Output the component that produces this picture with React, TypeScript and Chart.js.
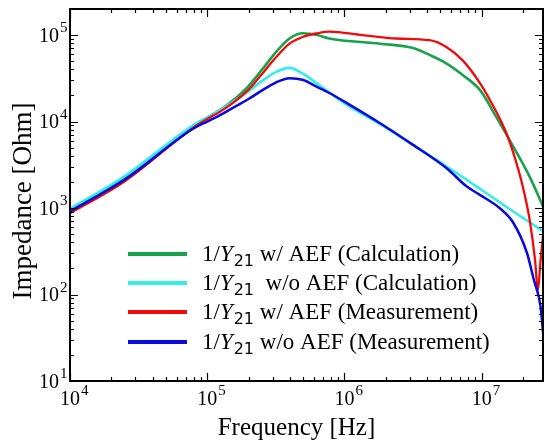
import React, { useEffect, useRef } from "react";
import { Chart, registerables } from "chart.js";

Chart.register(...registerables);

const W = 545;
const H = 445;

// Frequency [Hz] / Impedance [Ohm]
const greenFreq = [1e4, 2.51e4, 7.94e4, 1e5, 1.26e5, 1.585e5, 2.0e5, 2.51e5, 3.16e5, 3.98e5, 5.01e5, 6.31e5, 7.76e5, 1.82e6, 3.16e6, 4.17e6, 5.56e6, 7.24e6, 9.77e6, 1.29e7, 1.7e7, 2.24e7, 2.82e7];
const greenZ = [933, 2239, 8900, 10960, 13800, 18200, 25700, 39800, 63100, 91200, 104700, 100000, 91200, 79400, 70800, 58900, 46800, 34700, 22900, 11000, 5130, 2290, 1020];

const cyanFreq = [1e4, 2.51e4, 7.94e4, 1e5, 1.26e5, 1.585e5, 2.0e5, 2.51e5, 3.16e5, 3.98e5, 5.01e5, 6.31e5, 1.05e6, 1.82e6, 3.16e6, 5.56e6, 9.77e6, 1.7e7, 2.82e7];
const cyanZ = [977, 2344, 9120, 11200, 13800, 17400, 22400, 29500, 37200, 41700, 35500, 27500, 15500, 9330, 5370, 3020, 1660, 912, 537];

const redFreq = [1e4, 2.51e4, 7.94e4, 1e5, 1.26e5, 1.585e5, 2.0e5, 2.51e5, 3.16e5, 3.98e5, 5.01e5, 6.31e5, 7.76e5, 1.35e6, 2.4e6, 4.17e6, 5.56e6, 7.24e6, 9.77e6, 1.29e7, 1.51e7, 1.7e7, 2.0e7, 2.24e7, 2.45e7, 2.57e7, 2.69e7, 2.82e7];
const redZ = [871, 2042, 8510, 10700, 13200, 17000, 23400, 35500, 55000, 79430, 95500, 104700, 109600, 100000, 91200, 87100, 72400, 51300, 27500, 12600, 7410, 4365, 1740, 724, 251, 112, 251, 525];

const blueFreq = [1e4, 2.51e4, 7.94e4, 1e5, 1.26e5, 1.585e5, 2.0e5, 2.51e5, 3.16e5, 3.98e5, 5.01e5, 6.31e5, 7.76e5, 1.05e6, 1.82e6, 3.16e6, 5.56e6, 7.76e6, 9.77e6, 1.35e7, 1.7e7, 2.14e7, 2.4e7, 2.69e7, 2.82e7];
const blueZ = [912, 2138, 8320, 10000, 12000, 14800, 18200, 22900, 28200, 31620, 30200, 25120, 21380, 16220, 9550, 5370, 2880, 1780, 1410, 1000, 676, 302, 148, 72, 32];

const xExps = [4, 5, 6, 7];
const yExps = [1, 2, 3, 4, 5];

const legendNames = [" w/ AEF (Calculation)", "  w/o AEF (Calculation)", " w/ AEF (Measurement)", " w/o AEF (Measurement)"];
const legendColors = ["#17a24c", "#33ecec", "#f00a0a", "#0a0ae0"];

const xTitle = "Frequency [Hz]";
const yTitle = "Impedance [Ohm]";

const SERIF = '"Liberation Serif", "Times New Roman", serif';

function pts(f: number[], z: number[]) {
  return f.map((v, i) => ({ x: v, y: z[i] }));
}

export default function App() {
  const ref = useRef<HTMLCanvasElement>(null);

  useEffect(() => {
    const deco = {
      id: "deco",
      afterDraw(chart: any) {
        const ctx = chart.ctx as CanvasRenderingContext2D;
        const { left, right, top, bottom } = chart.chartArea;
        const xs = chart.scales.x;
        const ys = chart.scales.y;
        ctx.save();
        ctx.strokeStyle = "#000";
        ctx.fillStyle = "#000";
        ctx.lineWidth = 1.2;
        ctx.beginPath();
        for (let d = 4; d <= 7; d++) {
          for (let m = 1; m <= 9; m++) {
            const v = m * Math.pow(10, d);
            if (v < xs.min || v > xs.max) continue;
            const px = Math.round(xs.getPixelForValue(v)) + 0.5;
            const len = m === 1 ? 8 : 4;
            ctx.moveTo(px, bottom);
            ctx.lineTo(px, bottom - len);
            ctx.moveTo(px, top);
            ctx.lineTo(px, top + len);
          }
        }
        for (let d = 1; d <= 5; d++) {
          for (let m = 1; m <= 9; m++) {
            const v = m * Math.pow(10, d);
            if (v < ys.min || v > ys.max) continue;
            const py = Math.round(ys.getPixelForValue(v)) + 0.5;
            const len = m === 1 ? 8 : 4;
            ctx.moveTo(left, py);
            ctx.lineTo(left + len, py);
            ctx.moveTo(right, py);
            ctx.lineTo(right - len, py);
          }
        }
        ctx.stroke();
        ctx.lineWidth = 2;
        ctx.strokeRect(left, top, right - left, bottom - top);

        xExps.forEach((e) => {
          const px = xs.getPixelForValue(Math.pow(10, e));
          ctx.font = `20px ${SERIF}`;
          ctx.textAlign = "center";
          ctx.textBaseline = "alphabetic";
          ctx.fillText("10", px, 405);
          const w = ctx.measureText("10").width;
          ctx.font = `15px ${SERIF}`;
          ctx.textAlign = "left";
          ctx.fillText(String(e), px + w / 2 + 1, 395);
        });
        yExps.forEach((e) => {
          const py = ys.getPixelForValue(Math.pow(10, e));
          ctx.font = `15px ${SERIF}`;
          ctx.textAlign = "left";
          ctx.textBaseline = "alphabetic";
          ctx.fillText(String(e), 60, py - 3);
          ctx.font = `20px ${SERIF}`;
          ctx.textAlign = "right";
          ctx.fillText("10", 59, py + 6.5);
        });

        ctx.font = `25px ${SERIF}`;
        ctx.textAlign = "center";
        ctx.fillText(xTitle, (left + right) / 2 - 10, 435);
        ctx.save();
        ctx.translate(31, 201);
        ctx.rotate(-Math.PI / 2);
        ctx.font = `27px ${SERIF}`;
        ctx.textAlign = "center";
        ctx.fillText(yTitle, 0, 0);
        ctx.restore();

        const rowsY = [254, 283, 312, 342];
        legendNames.forEach((name, i) => {
          const y = rowsY[i];
          ctx.strokeStyle = legendColors[i];
          ctx.lineWidth = 4;
          ctx.beginPath();
          ctx.moveTo(128, y);
          ctx.lineTo(187, y);
          ctx.stroke();
          ctx.fillStyle = "#000";
          ctx.textAlign = "left";
          let x = 202;
          const base = y + 7;
          ctx.font = `23px ${SERIF}`;
          ctx.fillText("1/", x, base);
          x += ctx.measureText("1/").width;
          ctx.font = `italic 23px ${SERIF}`;
          ctx.fillText("Y", x, base);
          x += ctx.measureText("Y").width + 1;
          ctx.font = `16px "DejaVu Sans", sans-serif`;
          ctx.fillText("21", x, base + 5);
          x += ctx.measureText("21").width;
          ctx.font = `23px ${SERIF}`;
          ctx.fillText(name, x, base);
        });
        ctx.restore();
      },
    };

    const mk = (label: string, f: number[], z: number[], color: string, w: number) => ({
      label,
      data: pts(f, z),
      borderColor: color,
      backgroundColor: color,
      borderWidth: w,
      pointRadius: 0,
      fill: false,
      cubicInterpolationMode: "monotone" as const,
    });

    const chart = new Chart(ref.current as HTMLCanvasElement, {
      type: "line",
      data: {
        datasets: [
          mk("w/o AEF (Measurement)", blueFreq, blueZ, legendColors[3], 2.5),
          mk("w/ AEF (Measurement)", redFreq, redZ, legendColors[2], 2.3),
          mk("w/o AEF (Calculation)", cyanFreq, cyanZ, legendColors[1], 2.6),
          mk("w/ AEF (Calculation)", greenFreq, greenZ, legendColors[0], 2.6),
        ],
      },
      options: {
        responsive: false,
        animation: false,
        events: [],
        layout: { padding: { left: 70, top: 9, right: 2, bottom: 64 } },
        plugins: { legend: { display: false }, tooltip: { enabled: false }, title: { display: false } },
        scales: {
          x: { type: "logarithmic", min: 1e4, max: 2.8e7, display: false },
          y: { type: "logarithmic", min: 10, max: 2e5, display: false },
        },
      },
      plugins: [deco],
    });
    return () => chart.destroy();
  }, []);

  return (
    <div style={{ position: "absolute", left: 0, top: 0, width: W, height: H, background: "#fff" }}>
      <canvas ref={ref} width={W} height={H} style={{ width: W, height: H, display: "block" }} />
    </div>
  );
}
